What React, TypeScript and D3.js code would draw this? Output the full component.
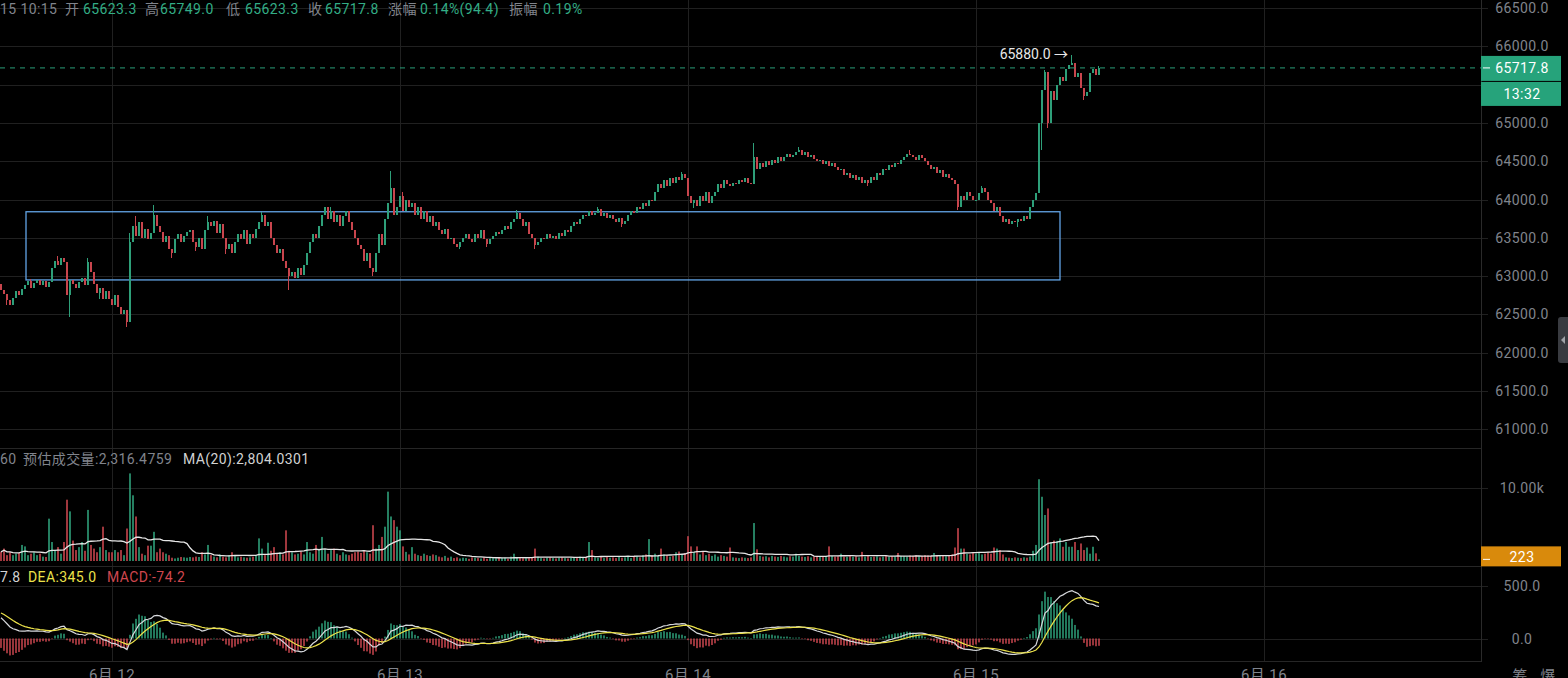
import React from 'react';
import { select, scaleLinear, scaleUtc, line, mean } from 'd3';

const width = 1568;
const height = 678;

// 15 minute candles, closes per day. open = previous close
const firstOpen = 62900;
const close0611 = [
  62820, 62760, 62690, 62620, 62720, 62800, 62750, 62830, 62880, 62930, 62850, 62910, 62950,
  62880, 62930, 62860, 62920, 63100, 63200, 63150, 63240,
  63180, 62750, 62950, 62900,
  62850, 62920, 62980, 62880,
  63180,
  63050, 62900, 62780, 62850, 62700, 62800,
  62700,
];
const close0612 = [
  62620, 62750, 62600, 62500, 62560, 62400,
  63450,
  63650, 63520, 63700, 63500, 63620, 63480, 63560,
  63800,
  63650, 63580, 63450, 63520, 63350, 63300,
  63480, 63550, 63450, 63520, 63580,
  63600, 63450, 63380, 63500, 63350,
  63600, 63700, 63650, 63720, 63560, 63680,
  63500, 63350, 63420, 63300, 63450,
  63550, 63480, 63600, 63420, 63550, 63500, 63620, 63700,
  63800,
  63650, 63700, 63500, 63400, 63300, 63350, 63200, 63100,
  63000,
  63050, 62980, 63100, 63020, 63150,
  63300, 63450, 63550, 63500, 63650, 63800,
  63900, 63750, 63850, 63700,
  63800, 63650, 63780, 63850, 63700, 63600,
  63500, 63400, 63350, 63200, 63300, 63100,
  63050,
  63300, 63550, 63400, 63750, 63950, 64150,
  63800, 63900,
];
const close0613 = [
  64050, 63850, 64000, 63900,
  63950, 63800, 63900, 63750, 63850, 63700, 63780, 63650,
  63700, 63600, 63550, 63620, 63480, 63500, 63420, 63380, 63450,
  63500, 63550, 63480, 63450, 63550, 63500, 63600, 63480, 63420, 63480,
  63520, 63580, 63550, 63600, 63650, 63620, 63700, 63750, 63820,
  63750, 63650, 63700, 63550, 63500, 63400, 63450,
  63500, 63480, 63550, 63500, 63530, 63480, 63560, 63520, 63600, 63580,
  63650, 63700, 63680, 63750, 63800, 63780, 63850, 63800, 63820, 63870,
  63780, 63820, 63760, 63800, 63740, 63700, 63760, 63680, 63720,
  63800, 63850, 63820, 63900, 63880, 63950, 63920, 64000, 63980,
  64100, 64200, 64150, 64250, 64180, 64280, 64220, 64300, 64250, 64330, 64280,
];
const close0614 = [
  64050, 63950, 64000, 63920, 64050, 63980, 64100, 63950, 64050,
  64100, 64200, 64150, 64250, 64200, 64180, 64220, 64200, 64250, 64230, 64280, 64220, 64200,
  64550,
  64400, 64480, 64420, 64500, 64450, 64520, 64480, 64550, 64500, 64550, 64600, 64560, 64580, 64620, 64650,
  64580, 64620, 64550, 64580, 64530,
  64500, 64520, 64460, 64500, 64440, 64480, 64420,
  64380, 64400, 64320, 64350, 64280, 64320, 64250, 64300, 64220, 64260, 64210,
  64300, 64250, 64350, 64320, 64400, 64380, 64450, 64420, 64480, 64460,
  64520, 64560, 64600, 64580, 64550, 64520, 64580, 64540, 64500,
  64450, 64400, 64420, 64350, 64380, 64300, 64330, 64280, 64250, 64200,
  63900,
  64050, 64000, 64100, 64050, 64000,
];
const close0615 = [
  64000, 64080, 64150, 64100,
  64000, 63950, 63850, 63900, 63780,
  63700, 63750, 63680, 63720, 63700, 63750, 63720, 63780, 63750,
  63900, 64000, 64080,
  65000,
  65430, 65660, 65000, 65420, 65300, 65500, 65600, 65550, 65700, 65750,
  65780, 65600, 65650, 65450, 65350, 65400, 65650, 65700, 65623.3, 65717.8,
];

const vol0611 = [
  1250, 1700, 800, 1200, 800, 1000, 1100, 2200, 2000, 800,
  1000, 1200, 800, 1000, 600, 550, 5800, 2600, 1500, 1900,
  1000, 2600, 8400, 6800, 2800, 1500, 1900, 2600, 1400, 7000,
  2200, 1700, 1200, 1900, 4700, 1500, 1200,
];
const vol0612 = [
  1200, 1500, 1200, 1500, 800, 4450, 12000, 9000, 6100, 1900,
  1000, 800, 2100, 2100, 4000, 1200, 1700, 1200, 1000, 800,
  450, 350, 450, 550, 500, 450, 550, 500, 600, 550,
  1200, 900, 2200, 800, 600, 500, 900, 600, 500, 800,
  1200, 700, 500, 600, 500, 450, 500, 600, 700, 3100,
  1700, 800, 2500, 1400, 1900, 1000, 1200, 900, 4200, 1400,
  1200, 900, 1000, 1300, 900, 2600, 1200, 1000, 2200, 1500,
  3300, 1600, 1000, 1500, 1700, 1000, 800, 1200, 900, 800,
  1000, 1200, 1300, 1100, 1400, 1200, 1000, 4900, 1700, 2200,
  3300, 4700, 9500, 6100, 5600, 4700,
];
const vol0613 = [
  4200, 2000, 1250, 900, 1900, 1000, 800, 700, 1000, 800,
  700, 900, 800, 600, 500, 700, 450, 600, 400, 500,
  350, 450, 400, 300, 500, 450, 400, 350, 500, 300,
  450, 400, 350, 500, 400, 450, 300, 600, 1000, 500,
  450, 400, 350, 500, 450, 1700, 600, 400, 350, 450,
  500, 400, 350, 450, 500, 400, 350, 450, 500, 400,
  600, 450, 500, 2600, 1500, 500, 450, 600, 400, 550,
  450, 500, 400, 600, 450, 500, 550, 400, 600, 700,
  500, 800, 900, 3000, 800, 1000, 700, 1700, 900, 800,
  600, 700, 1200, 1300, 900, 1100,
];
const vol0614 = [
  3400, 2000, 1200, 2000, 900, 1250, 800, 1000, 700, 900,
  600, 800, 700, 600, 1850, 500, 450, 400, 500, 450,
  400, 500, 5200, 1600, 700, 600, 650, 500, 700, 600,
  550, 700, 600, 500, 650, 600, 1000, 700, 600, 550,
  650, 500, 600, 700, 550, 600, 650, 2000, 700, 600,
  650, 1000, 600, 550, 700, 600, 650, 500, 1250, 600,
  700, 550, 600, 650, 500, 600, 700, 550, 650, 600,
  1100, 700, 650, 600, 750, 700, 800, 650, 700, 800,
  750, 700, 1100, 800, 700, 750, 650, 800, 900, 1850,
  4500, 1700, 1700, 1000, 900, 1100,
];
const vol0615 = [
  1000, 1100, 900, 1000, 1200, 1000, 1850, 1700, 1500, 900,
  500, 450, 400, 500, 450, 400, 500, 450, 600, 1400,
  2200, 11200, 8800, 6300, 7200, 2600, 2800, 2750, 3100, 1950,
  2600, 1950, 1950, 2600, 1500, 2400, 1500, 1850, 1000, 1950,
  1050, 223,
];

// shadows sticking out of the bodies: [candle index, high, low]
const wicks: [number, number | null, number | null][] = [
  [2, null, 62620], [10, 62960, null], [19, 63260, null], [23, null, 62470],
  [29, 63230, null], [33, null, 62700], [42, null, 62330], [43, 63560, null],
  [45, 63780, null], [51, 63930, null], [57, null, 63240], [65, null, 63330],
  [69, 63780, null], [75, null, 63290], [87, 63840, null], [96, null, 62820],
  [110, 63900, null], [124, null, 63000], [130, 64370, null], [134, 64100, null],
  [153, null, 63350], [162, null, 63380], [172, 63860, null], [178, null, 63350],
  [199, 63900, null], [207, null, 63640], [227, 64360, null], [231, null, 63890],
  [251, 64735, null], [266, 64690, null], [289, null, 64180], [303, 64640, null],
  [319, null, 63860], [327, 64180, null], [339, null, 63640], [347, null, 64640],
  [348, 65690, null], [349, null, 64930], [357, 65880, null], [361, null, 65300],
  [366, 65749, 65623.3],
];

const dayStarts = [
  Date.UTC(2024, 5, 11, 14, 45),
  Date.UTC(2024, 5, 12),
  Date.UTC(2024, 5, 13),
  Date.UTC(2024, 5, 14),
  Date.UTC(2024, 5, 15),
];
const dayCloses = [close0611, close0612, close0613, close0614, close0615];
const dayVols = [vol0611, vol0612, vol0613, vol0614, vol0615];

const priceTicks = [66500, 66000, 65500, 65000, 64500, 64000, 63500, 63000, 62500, 62000, 61500, 61000];
const volTicks = [10000];
const volTickLabels = ['10.00k'];
const macdTicks = [500, 0];
const dateTicks = [Date.UTC(2024, 5, 12), Date.UTC(2024, 5, 13), Date.UTC(2024, 5, 14), Date.UTC(2024, 5, 15), Date.UTC(2024, 5, 16)];
const dateLabels = ['6月 12', '6月 13', '6月 14', '6月 15', '6月 16'];

const lastPrice = 65717.8;
const countdown = '13:32';
const lastVolLabel = '223';
const peakPrice = 65880;
const peakIndex = 357;
const zone = { from: Date.UTC(2024, 5, 11, 16, 50), to: Date.UTC(2024, 5, 15, 7, 0), top: 63840, bottom: 62950 };
const macdSeed = { fast: 62950, slow: 62725, dea: 254 };

const infoTime = '15 10:15';
const infoLabels = ['开', '高', '低', '收', '涨幅', '振幅'];
const infoValues = ['65623.3', '65749.0', '65623.3', '65717.8', '0.14%(94.4)', '0.19%'];

const GREEN = '#2e9f79';
const RED = '#c8454d';
const GRID = '#202020';
const AXIS_TXT = '#80848c';
const FONT = "Roboto, 'Noto Sans CJK SC', sans-serif";

const dims = {
  plotRight: 1481,
  priceTop: 8, priceBottom: 429.3,
  volTop: 488, volBottom: 561,
  macdTop: 586, macdBottom: 638.5,
  axisMid: 1522,
};

interface Candle { t: number; o: number; h: number; l: number; c: number; v: number; dif: number; dea: number; macd: number; ma: number }

const buildCandles = (): Candle[] => {
  const wickMap = new Map(wicks.map(w => [w[0], w]));
  const out: Candle[] = [];
  let prev = firstOpen;
  dayCloses.forEach((closes, d) => {
    closes.forEach((c, j) => {
      const w = wickMap.get(out.length);
      const o = prev;
      out.push({
        t: dayStarts[d] + j * 15 * 60000,
        o, c,
        h: Math.max(o, c, w && w[1] != null ? w[1] : -Infinity),
        l: Math.min(o, c, w && w[2] != null ? w[2] : Infinity),
        v: dayVols[d][j],
        dif: 0, dea: 0, macd: 0, ma: 0,
      });
      prev = c;
    });
  });
  let fast = macdSeed.fast, slow = macdSeed.slow, dea = macdSeed.dea;
  out.forEach((k, i) => {
    fast += (k.c - fast) * 2 / 13;
    slow += (k.c - slow) * 2 / 27;
    const dif = fast - slow;
    dea += (dif - dea) * 2 / 10;
    k.dif = dif; k.dea = dea; k.macd = 2 * (dif - dea);
    k.ma = mean(out.slice(Math.max(0, i - 19), i + 1), d => d.v) as number;
  });
  return out;
};

const App: React.FC = () => {
  const ref = React.useRef<SVGSVGElement>(null);

  React.useEffect(() => {
    const svg = select(ref.current);
    svg.selectAll('*').remove();
    const data = buildCandles();

    const x = scaleUtc().domain([dateTicks[0], dateTicks[4]]).range([112, 1264]);
    const y = scaleLinear().domain([61000, 66500]).range([dims.priceBottom, dims.priceTop]);
    const yv = scaleLinear().domain([0, 10000]).range([dims.volBottom, dims.volTop]);
    const ym = scaleLinear().domain([0, 500]).range([dims.macdBottom, dims.macdTop]);

    svg.append('rect').attr('width', width).attr('height', height).attr('fill', '#000');

    const grid = svg.append('g').attr('shape-rendering', 'crispEdges').attr('stroke', GRID);
    priceTicks.forEach(p => grid.append('line').attr('x1', 0).attr('x2', dims.plotRight + 7).attr('y1', Math.round(y(p)) + 0.5).attr('y2', Math.round(y(p)) + 0.5));
    volTicks.forEach(v => grid.append('line').attr('x1', 0).attr('x2', dims.plotRight + 7).attr('y1', Math.round(yv(v)) + 0.5).attr('y2', Math.round(yv(v)) + 0.5));
    macdTicks.forEach(v => grid.append('line').attr('x1', 0).attr('x2', dims.plotRight + 7).attr('y1', Math.round(ym(v)) + 0.5).attr('y2', Math.round(ym(v)) + 0.5));
    dateTicks.forEach(t => grid.append('line').attr('x1', Math.round(x(t)) + 0.5).attr('x2', Math.round(x(t)) + 0.5).attr('y1', 0).attr('y2', 662));
    [448.5, 566.5, 661.5].forEach(yy => grid.append('line').attr('x1', 0).attr('x2', dims.plotRight).attr('y1', yy).attr('y2', yy).attr('stroke', '#262626'));
    grid.append('line').attr('x1', dims.plotRight + 0.5).attr('x2', dims.plotRight + 0.5).attr('y1', 0).attr('y2', 662).attr('stroke', '#2a2a2a');

    // zone box
    svg.append('rect')
      .attr('x', x(zone.from)).attr('y', y(zone.top))
      .attr('width', x(zone.to) - x(zone.from)).attr('height', y(zone.bottom) - y(zone.top))
      .attr('fill', 'none').attr('stroke', '#62a4e6').attr('stroke-width', 1.3);

    // candles
    const cg = svg.append('g').attr('shape-rendering', 'crispEdges');
    data.forEach(k => {
      const cx = Math.round(x(k.t));
      const col = k.c >= k.o ? GREEN : RED;
      cg.append('rect').attr('x', cx - 1).attr('width', 1).attr('y', y(k.h)).attr('height', Math.max(1, y(k.l) - y(k.h))).attr('fill', col);
      const top = y(Math.max(k.o, k.c));
      cg.append('rect').attr('x', cx - 1).attr('width', 2).attr('y', top).attr('height', Math.max(1, y(Math.min(k.o, k.c)) - top)).attr('fill', col);
    });

    // last price line
    svg.append('line').attr('x1', 0).attr('x2', dims.plotRight).attr('y1', y(lastPrice)).attr('y2', y(lastPrice))
      .attr('stroke', '#2a9d78').attr('stroke-dasharray', '5,5');

    // peak label
    const peak = data[peakIndex];
    svg.append('text').attr('x', x(peak.t) - 4).attr('y', y(peakPrice) + 4).attr('text-anchor', 'end')
      .attr('fill', '#e8e8e8').attr('font-size', 14).attr('font-family', FONT).text(`${peakPrice.toFixed(1)} →`);

    // volume
    const vg = svg.append('g');
    data.forEach(k => {
      const cx = x(k.t);
      vg.append('rect').attr('x', cx - 0.8).attr('width', 1.6).attr('y', yv(k.v)).attr('height', yv(0) - yv(k.v))
        .attr('fill', k.c >= k.o ? GREEN : RED);
    });
    vg.append('path').datum(data)
      .attr('d', line<Candle>().x(d => x(d.t)).y(d => yv(d.ma)))
      .attr('fill', 'none').attr('stroke', '#e6e6e6').attr('stroke-width', 1.3);

    // macd
    const mg = svg.append('g');
    data.forEach(k => {
      const cx = x(k.t);
      const y0 = ym(0), y1 = ym(k.macd);
      mg.append('rect').attr('x', cx - 0.75).attr('width', 1.5).attr('y', Math.min(y0, y1)).attr('height', Math.max(0.6, Math.abs(y1 - y0)))
        .attr('fill', k.macd >= 0 ? GREEN : RED);
    });
    mg.append('path').datum(data).attr('d', line<Candle>().x(d => x(d.t)).y(d => ym(d.dif)))
      .attr('fill', 'none').attr('stroke', '#d6d8dc').attr('stroke-width', 1.2);
    mg.append('path').datum(data).attr('d', line<Candle>().x(d => x(d.t)).y(d => ym(d.dea)))
      .attr('fill', 'none').attr('stroke', '#ece24a').attr('stroke-width', 1.2);

    const ly = y(lastPrice);

    // axes text (labels hidden under the price tag are skipped)
    const at = svg.append('g').attr('font-family', FONT).attr('font-size', 14).attr('letter-spacing', 0.4)
      .attr('fill', AXIS_TXT).attr('text-anchor', 'middle');
    priceTicks.filter(p => Math.abs(y(p) - (ly + 13)) > 26).forEach(p =>
      at.append('text').attr('x', dims.axisMid).attr('y', y(p) + 5).text(p.toFixed(1)));
    volTicks.forEach((v, i) => at.append('text').attr('x', dims.axisMid).attr('y', yv(v) + 5).text(volTickLabels[i]));
    macdTicks.forEach(v => at.append('text').attr('x', dims.axisMid).attr('y', ym(v) + 5).text(v.toFixed(1)));
    dateTicks.forEach((t, i) => at.append('text').attr('x', x(t)).attr('y', 680).attr('font-size', 15).text(dateLabels[i]));
    at.append('text').attr('x', 1520).attr('y', 681).attr('font-size', 15).text('筹');
    at.append('text').attr('x', 1548).attr('y', 681).attr('font-size', 15).text('爆');

    // price tag
    const tag = svg.append('g').attr('font-family', FONT).attr('font-size', 14).attr('letter-spacing', 0.4)
      .attr('text-anchor', 'middle').attr('fill', '#fff');
    tag.append('rect').attr('x', dims.plotRight).attr('y', ly - 12).attr('width', 80).attr('height', 25).attr('fill', '#26a37b');
    tag.append('rect').attr('x', dims.plotRight).attr('y', ly + 14).attr('width', 80).attr('height', 24).attr('fill', '#26a37b');
    tag.append('line').attr('x1', dims.plotRight + 2).attr('x2', dims.plotRight + 9).attr('y1', ly).attr('y2', ly).attr('stroke', '#fff');
    tag.append('text').attr('x', dims.axisMid).attr('y', ly + 5).text(lastPrice.toFixed(1));
    tag.append('text').attr('x', dims.axisMid).attr('y', ly + 31).text(countdown);

    const last = data[data.length - 1];
    const vy = yv(last.v);
    tag.append('rect').attr('x', dims.plotRight).attr('y', vy - 13).attr('width', 80).attr('height', 20).attr('fill', '#d98a0c');
    tag.append('line').attr('x1', dims.plotRight + 2).attr('x2', dims.plotRight + 9).attr('y1', vy).attr('y2', vy).attr('stroke', '#fff');
    tag.append('text').attr('x', dims.axisMid).attr('y', vy + 2.5).text(lastVolLabel);

    // side handle
    svg.append('rect').attr('x', 1558).attr('y', 317).attr('width', 12).attr('height', 46).attr('rx', 3).attr('fill', '#393b40');
    svg.append('path').attr('d', 'M1561,340 L1565,336 L1565,344 Z').attr('fill', '#a0a3a8');

    // header rows
    const hd = svg.append('g').attr('font-family', FONT).attr('font-size', 14).attr('letter-spacing', 0.4);
    const labelX = [65, 145, 226, 308, 388, 509];
    const valueX = [83, 160, 245, 325, 420, 543];
    hd.append('text').attr('x', 0).attr('y', 13.5).attr('fill', AXIS_TXT).text(infoTime);
    infoLabels.forEach((s, i) => hd.append('text').attr('x', labelX[i]).attr('y', 13.5).attr('fill', AXIS_TXT).text(s));
    infoValues.forEach((s, i) => hd.append('text').attr('x', valueX[i]).attr('y', 13.5).attr('fill', '#33ad86').text(s));

    hd.append('text').attr('x', 0).attr('y', 464).attr('fill', AXIS_TXT).text('60');
    hd.append('text').attr('x', 23).attr('y', 464).attr('fill', AXIS_TXT).text('预估成交量:2,316.4759');
    hd.append('text').attr('x', 183).attr('y', 464).attr('fill', '#d2d2d2').text('MA(20):2,804.0301');

    hd.append('text').attr('x', 0).attr('y', 582).attr('fill', '#d2d2d2').text('7.8');
    hd.append('text').attr('x', 28).attr('y', 582).attr('fill', '#ece24a').text(`DEA:${(345.0).toFixed(1)}`);
    hd.append('text').attr('x', 107).attr('y', 582).attr('fill', '#d0474f').text('MACD:-74.2');
  }, []);

  return (
    <div style={{ position: 'absolute', left: 0, top: 0 }}>
      <svg ref={ref} width={width} height={height} style={{ display: 'block' }} />
    </div>
  );
};

export default App;
